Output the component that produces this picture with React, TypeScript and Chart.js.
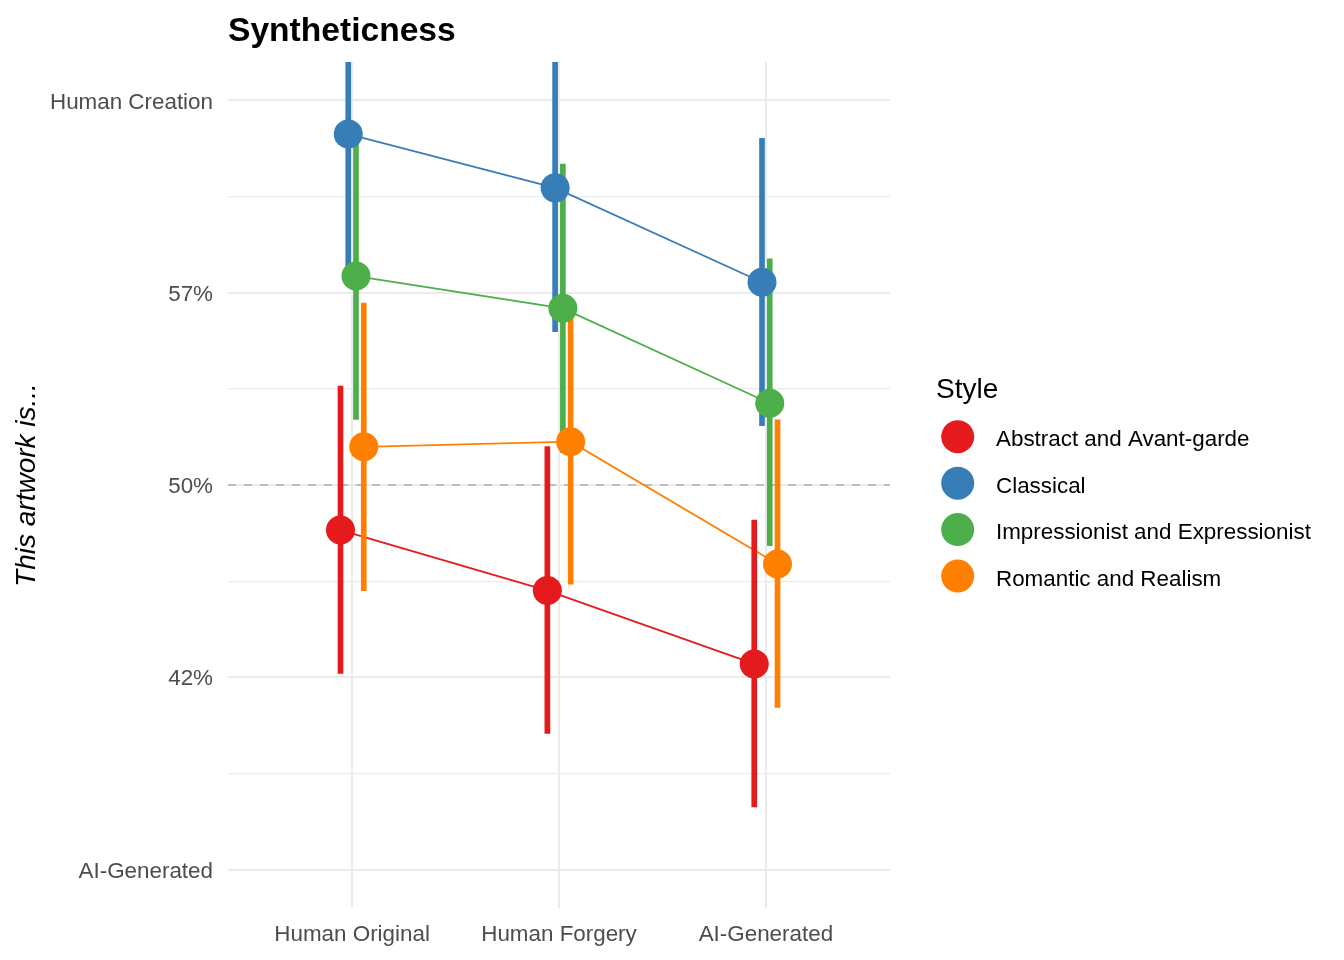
import React, { useEffect, useRef } from 'react';
import { Chart, registerables } from 'chart.js';

Chart.register(...registerables);

// ---- data ----
const categories = ['Human Original', 'Human Forgery', 'AI-Generated'];
const styles = [
  'Abstract and Avant-garde',
  'Classical',
  'Impressionist and Expressionist',
  'Romantic and Realism',
];
const colors = ['#E41A1C', '#377EB8', '#4DAF4A', '#FF7F00'];

const abstractMean = [48.24, 45.88, 43.02];
const abstractLow = [42.65, 40.31, 37.44];
const abstractHigh = [53.86, 51.5, 48.63];

const classicalMean = [63.69, 61.59, 57.91];
const classicalLow = [58.07, 55.98, 52.31];
const classicalHigh = [69.31, 67.2, 63.52];

const impressionistMean = [58.15, 56.89, 53.19];
const impressionistLow = [52.56, 51.26, 47.63];
const impressionistHigh = [63.34, 62.52, 58.82];

const romanticMean = [51.49, 51.69, 46.92];
const romanticLow = [45.88, 46.13, 41.32];
const romanticHigh = [57.1, 57.25, 52.54];

const yTickValues = [35, 38.75, 42.5, 46.25, 50, 53.75, 57.5, 61.25, 65];
const yTickLabels = ['AI-Generated', '', '42%', '', '50%', '', '57%', '', 'Human Creation'];
const yMin = 33.5;
const yMax = 66.5;
const refLine = 50;

const titleText = 'Syntheticness';
const yTitle = 'This artwork is...';
const legendTitle = 'Style';

const FONT = '"Liberation Sans", Arial, Helvetica, sans-serif';
const DODGE = 0.15;

export default function App() {
  const ref = useRef<HTMLCanvasElement>(null);

  useEffect(() => {
    document.body.style.margin = '0';
    const canvas = ref.current;
    if (!canvas) return;

    const means = [abstractMean, classicalMean, impressionistMean, romanticMean];
    const lows = [abstractLow, classicalLow, impressionistLow, romanticLow];
    const highs = [abstractHigh, classicalHigh, impressionistHigh, romanticHigh];
    const n = styles.length;
    const off = (i: number) => (i - (n - 1) / 2) * (DODGE / n);

    const datasets: any[] = [];
    styles.forEach((s, i) => {
      datasets.push({
        type: 'line',
        label: s + ' line',
        data: means[i].map((m, j) => ({ x: j + 1 + off(i), y: m })),
        borderColor: colors[i],
        backgroundColor: colors[i],
        borderWidth: 1.8,
        pointRadius: 0,
        pointHoverRadius: 0,
        fill: false,
        order: 3,
        clip: 0,
      });
    });
    styles.forEach((s, i) => {
      datasets.push({
        type: 'bar',
        label: s + ' range',
        data: lows[i].map((lo, j) => ({ x: j + 1 + off(i), y: [lo, highs[i][j]] })),
        backgroundColor: colors[i],
        borderWidth: 0,
        grouped: false,
        barThickness: 5,
        maxBarThickness: 5,
        order: 2,
        clip: 0,
      });
    });
    styles.forEach((s, i) => {
      datasets.push({
        type: 'line',
        label: s,
        data: means[i].map((m, j) => ({ x: j + 1 + off(i), y: m })),
        showLine: false,
        pointRadius: 14.5,
        pointHoverRadius: 14.5,
        pointBorderWidth: 0,
        pointBackgroundColor: colors[i],
        backgroundColor: colors[i],
        borderColor: colors[i],
        order: 1,
      });
    });

    const decor = {
      id: 'decor',
      beforeDatasetsDraw(chart: any) {
        const { ctx, chartArea, scales } = chart;
        const y = scales.y.getPixelForValue(refLine);
        ctx.save();
        ctx.strokeStyle = '#BEBEBE';
        ctx.lineWidth = 2;
        ctx.setLineDash([8, 8]);
        ctx.beginPath();
        ctx.moveTo(chartArea.left, y);
        ctx.lineTo(chartArea.right, y);
        ctx.stroke();
        ctx.restore();
      },
      afterDraw(chart: any) {
        const { ctx, chartArea } = chart;
        ctx.save();
        // title
        ctx.fillStyle = '#000000';
        ctx.font = 'bold 33.6px ' + FONT;
        ctx.textAlign = 'left';
        ctx.textBaseline = 'alphabetic';
        ctx.fillText(titleText, chartArea.left, 41);
        // legend
        const lx = 936;
        ctx.font = '28px ' + FONT;
        ctx.fillText(legendTitle, lx, 397.5);
        ctx.font = '22.4px ' + FONT;
        styles.forEach((s, i) => {
          const cy = 436.7 + i * 46.45;
          ctx.beginPath();
          ctx.fillStyle = colors[i];
          ctx.arc(957.7, cy, 16.5, 0, Math.PI * 2);
          ctx.fill();
          ctx.fillStyle = '#000000';
          ctx.fillText(s, 996, cy + 9.5);
        });
        ctx.restore();
      },
    };

    const chart = new Chart(canvas, {
      type: 'line',
      data: { datasets },
      plugins: [decor],
      options: {
        animation: false,
        responsive: false,
        events: [],
        layout: { padding: { left: 0, top: 62, right: 454, bottom: 0 } },
        plugins: {
          legend: { display: false },
          title: { display: false },
          tooltip: { enabled: false },
        },
        scales: {
          x: {
            type: 'linear',
            min: 0.4,
            max: 3.6,
            offset: false,
            afterBuildTicks: (scale: any) => {
              scale.ticks = categories.map((_, j) => ({ value: j + 1 }));
            },
            afterFit: (scale: any) => {
              scale.height = 52;
            },
            border: { display: false },
            grid: {
              color: '#EBEBEB',
              lineWidth: 2,
              drawTicks: false,
              offset: false,
            },
            ticks: {
              autoSkip: false,
              maxRotation: 0,
              padding: 13,
              color: '#4D4D4D',
              font: { family: FONT, size: 22.4 },
              callback: (v: any) => {
                const idx = Math.round(Number(v)) - 1;
                return categories[idx] ?? '';
              },
            },
          },
          y: {
            type: 'linear',
            min: yMin,
            max: yMax,
            afterBuildTicks: (scale: any) => {
              scale.ticks = yTickValues.map((v) => ({ value: v }));
            },
            afterFit: (scale: any) => {
              scale.width = 228;
            },
            border: { display: false },
            grid: {
              color: '#EBEBEB',
              lineWidth: (c: any) => {
                const idx = yTickValues.indexOf(c.tick?.value);
                return idx % 2 === 0 ? 2 : 1.2;
              },
              drawTicks: false,
            },
            ticks: {
              autoSkip: false,
              padding: 15,
              labelOffset: 2,
              color: '#4D4D4D',
              font: { family: FONT, size: 22.4 },
              callback: (v: any) => {
                const idx = yTickValues.indexOf(Number(v));
                return idx >= 0 ? yTickLabels[idx] : '';
              },
            },
            title: {
              display: true,
              text: yTitle,
              color: '#000000',
              padding: { top: 10, bottom: 0 },
              font: { family: FONT, size: 28, style: 'italic' },
            },
          },
        },
      },
    } as any);

    return () => {
      chart.destroy();
    };
  }, []);

  return (
    <div style={{ width: 1344, height: 960, background: '#FFFFFF' }}>
      <canvas ref={ref} width={1344} height={960} style={{ display: 'block', width: 1344, height: 960 }} />
    </div>
  );
}
